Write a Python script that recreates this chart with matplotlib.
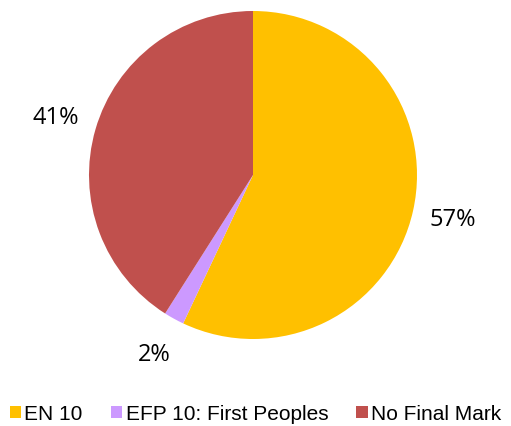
import matplotlib
matplotlib.use("Agg")
import matplotlib.pyplot as plt

categories = ["EN 10", "EFP 10: First Peoples", "No Final Mark"]
shares = [57, 2, 41]
colors = ["#FFC000", "#CC99FF", "#C0504D"]

fig = plt.figure(figsize=(5.11, 4.26), dpi=100)
ax = fig.add_axes([89 / 511, 87 / 426, 328 / 511, 328 / 426])

wedges, texts, autotexts = ax.pie(
    shares,
    colors=colors,
    startangle=90,
    counterclock=False,
    autopct="%1.0f%%",
    pctdistance=1.25,
    radius=1.0,
)
for t in autotexts:
    t.set_fontsize(17)
    t.set_family("Open Sans")
    t.set_color("black")
ax.set_xlim(-1, 1)
ax.set_ylim(-1, 1)
ax.set_aspect("equal")

fig.legend(
    wedges, categories,
    loc="center", bbox_to_anchor=(0.5, 12 / 426),
    ncol=3, frameon=False,
    prop={"family": "Liberation Sans", "size": 15},
    handlelength=0.55, handleheight=0.55, handletextpad=0.15,
    columnspacing=1.35, borderpad=0, borderaxespad=0,
)

fig.savefig("out.png", dpi=100)
